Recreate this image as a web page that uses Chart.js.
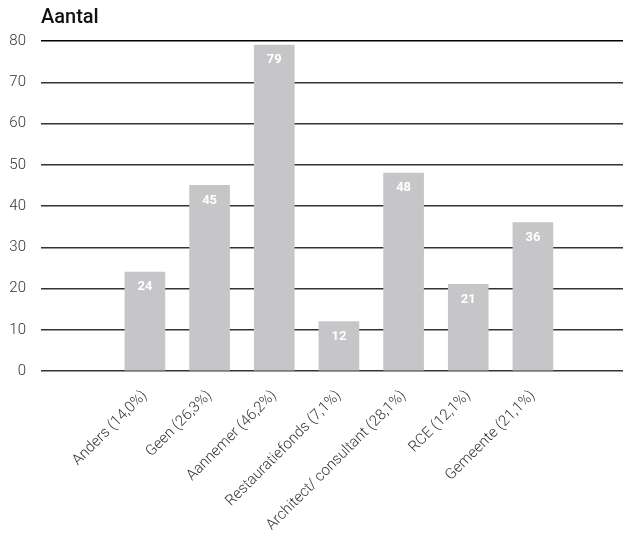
<!DOCTYPE html>
<html lang="nl">
<head>
    <meta charset="UTF-8">
    <title>Aantal</title>
    <script src="https://cdn.jsdelivr.net/npm/chart.js"></script>
    <style>
        body { margin: 0; background: #fff; }
    </style>
</head>
<body>

    <canvas id="myChart" width="624" height="539"></canvas>

    <script>
        // data uit de figuur
        const categories = ['Anders (14,0%)', 'Geen (26,3%)', 'Aannemer (46,2%)', 'Restauratiefonds (7,1%)',
            'Architect/ consultant (28,1%)', 'RCE (12,1%)', 'Gemeente (21,1%)'];
        const values = [24, 45, 79, 12, 48, 21, 36];
        const yTicks = [0, 10, 20, 30, 40, 50, 60, 70, 80];

        // titel linksboven, boven het plotgebied
        const titlePlugin = {
            id: 'titleLeft',
            afterDraw(chart) {
                const ctx = chart.ctx;
                ctx.save();
                ctx.font = '500 20px Roboto';
                ctx.fillStyle = '#111';
                ctx.textAlign = 'left';
                ctx.textBaseline = 'alphabetic';
                ctx.fillText('Aantal', chart.chartArea.left, 23);
                ctx.restore();
            }
        };

        // witte getallen in de staven
        const barLabels = {
            id: 'barLabels',
            afterDatasetsDraw(chart) {
                const ctx = chart.ctx;
                const meta = chart.getDatasetMeta(0);
                ctx.save();
                ctx.font = 'bold 13px Roboto';
                ctx.fillStyle = '#fff';
                ctx.textAlign = 'center';
                ctx.textBaseline = 'middle';
                meta.data.forEach((bar, i) => {
                    ctx.fillText(String(values[i]), bar.x, bar.y + 15);
                });
                ctx.restore();
            }
        };

        const data = {
            datasets: [{
                data: values.map((v, i) => ({ x: i, y: v })),
                backgroundColor: '#c6c6c8',
                borderWidth: 0,
                barThickness: 40
            }]
        };

        const config = {
            type: 'bar',
            data: data,
            options: {
                responsive: false,
                animation: false,
                layout: { padding: { top: 41, right: 1, left: 0, bottom: 0 } },
                plugins: {
                    legend: { display: false },
                    tooltip: { enabled: false }
                },
                scales: {
                    x: {
                        type: 'linear',
                        bounds: 'data',
                        offset: false,
                        min: -1.607,
                        max: 7.393,
                        grid: { display: false },
                        border: { display: false },
                        afterBuildTicks: (scale) => {
                            scale.ticks = categories.map((c, i) => ({ value: i }));
                        },
                        afterFit: (scale) => {
                            scale.height = 168;
                            scale.paddingLeft = 0;
                            scale.paddingRight = 0;
                        },
                        ticks: {
                            autoSkip: false,
                            minRotation: 45,
                            maxRotation: 45,
                            padding: 8,
                            color: '#333',
                            font: { family: 'Roboto', size: 15, weight: '300' },
                            callback: (v) => categories[v]
                        }
                    },
                    y: {
                        min: 0,
                        max: 80,
                        afterBuildTicks: (scale) => {
                            scale.ticks = yTicks.map(v => ({ value: v }));
                        },
                        afterFit: (scale) => { scale.width = 41; },
                        border: { display: false },
                        grid: {
                            drawTicks: false,
                            lineWidth: 1.5,
                            color: (ctx) => ctx.tick && ctx.tick.value === 80 ? '#000' : '#333'
                        },
                        ticks: {
                            padding: 15,
                            color: '#333',
                            font: { family: 'Roboto', size: 15, weight: '300' }
                        }
                    }
                }
            },
            plugins: [titlePlugin, barLabels]
        };

        const ctx = document.getElementById('myChart').getContext('2d');
        const chart = new Chart(ctx, config);
    </script>
</body>
</html>
